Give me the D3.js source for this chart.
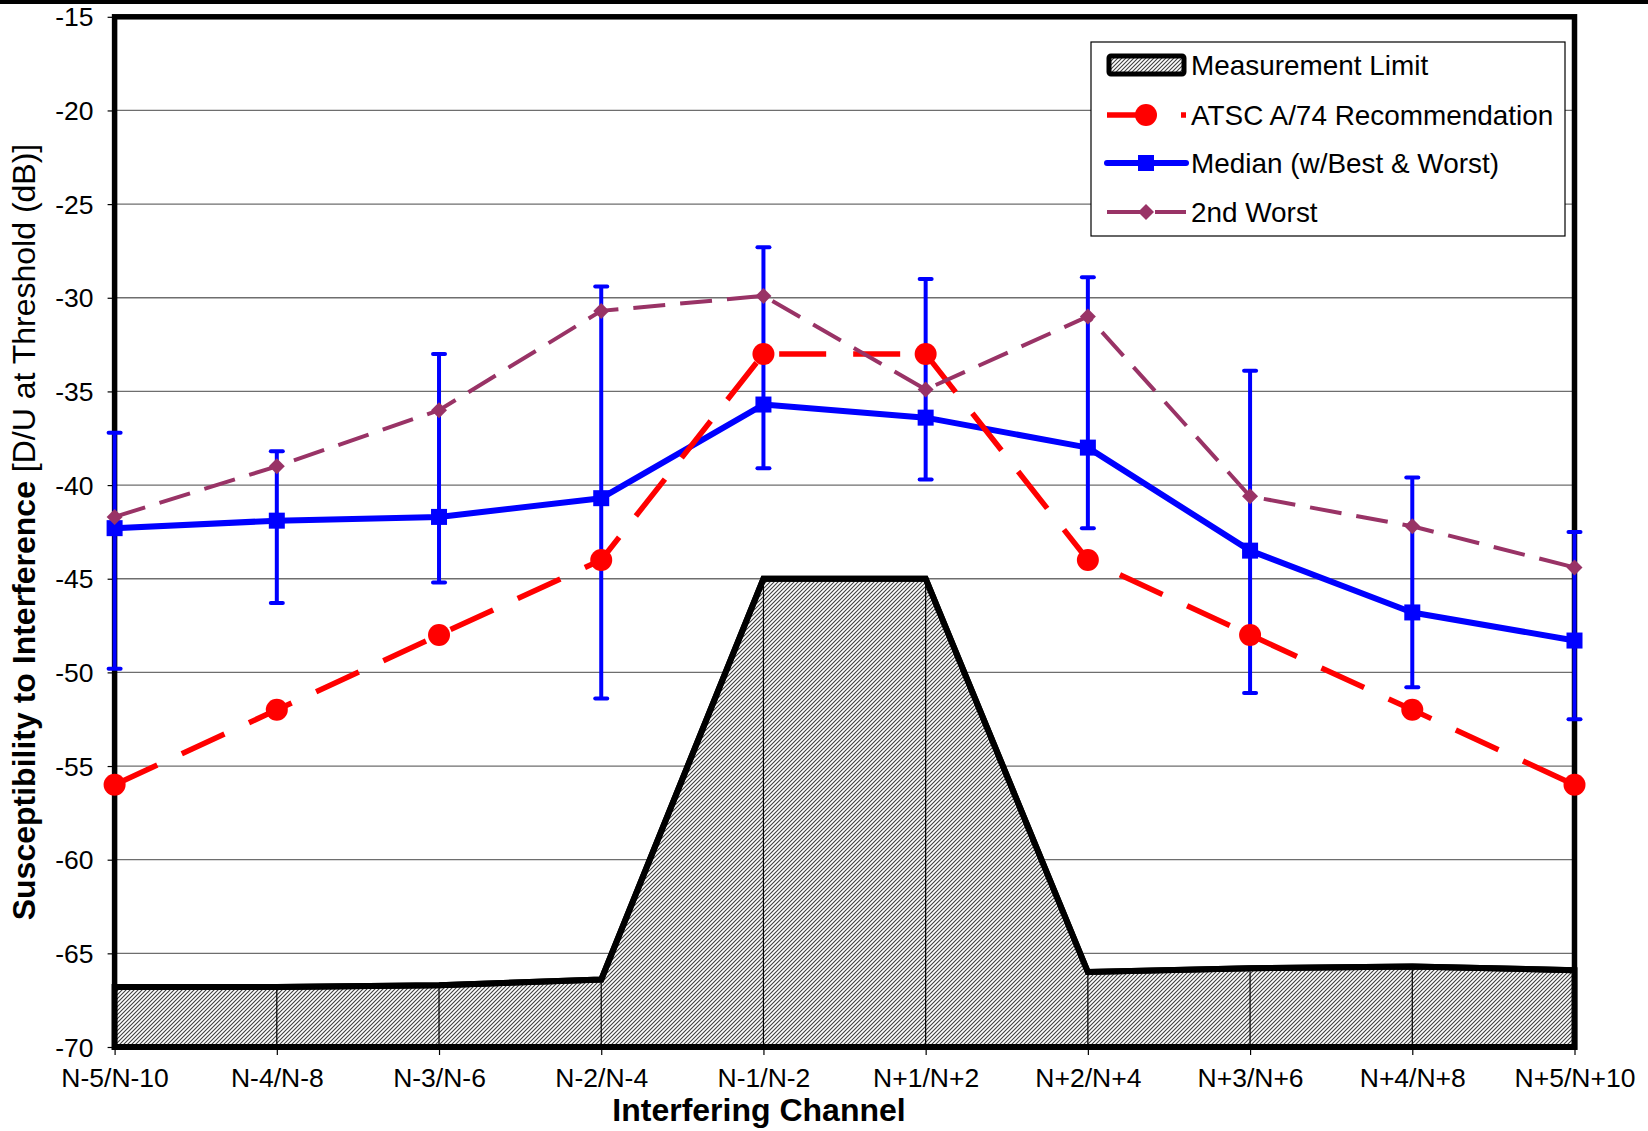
<!DOCTYPE html>
<html>
<head>
<meta charset="utf-8">
<script src="https://cdn.jsdelivr.net/npm/d3@7"></script>
<style>
  html, body { margin: 0; padding: 0; background: #fff; }
  svg { display: block; }
  text { font-family: "Liberation Sans", Arial, Helvetica, sans-serif; fill: #000; }
</style>
</head>
<body>
<svg id="chart" width="1648" height="1131"></svg>
<script>
// ---------- data ----------
const categories = ["N-5/N-10","N-4/N-8","N-3/N-6","N-2/N-4","N-1/N-2","N+1/N+2","N+2/N+4","N+3/N+6","N+4/N+8","N+5/N+10"];
const measurementLimit = [-66.8,-66.8,-66.7,-66.4,-45.0,-45.0,-66.0,-65.8,-65.7,-65.9];
const atscA74 = [-56,-52,-48,-44,-33,-33,-44,-48,-52,-56];
const median = [-42.3,-41.9,-41.7,-40.7,-35.7,-36.4,-38.0,-43.5,-46.8,-48.3];
const worst = [-37.2,-38.2,-33.0,-29.4,-27.3,-29.0,-28.9,-33.9,-39.6,-42.5];
const best = [-49.8,-46.3,-45.2,-51.4,-39.1,-39.7,-42.3,-51.1,-50.8,-52.5];
const secondWorst = [-41.7,-39.0,-36.0,-30.7,-29.9,-34.9,-31.0,-40.6,-42.2,-44.4];
const yTicks = [-15,-20,-25,-30,-35,-40,-45,-50,-55,-60,-65,-70];
const legendLabels = ["Measurement Limit","ATSC A/74 Recommendation","Median (w/Best & Worst)","2nd Worst"];

// ---------- layout ----------
const L = 114.6, R = 1574.5, T = 16.8, B = 1047;
const svg = d3.select("#chart");

const x = d3.scalePoint().domain(categories).range([L, R]).padding(0);
const y = d3.scaleLinear().domain([-70, -15]).range([B, T]);

// top black band
svg.append("rect").attr("x", 0).attr("y", 0).attr("width", 1648).attr("height", 4).attr("fill", "#000");

// hatch pattern
const defs = svg.append("defs");
const pat = defs.append("pattern").attr("id", "hatch").attr("patternUnits", "userSpaceOnUse")
  .attr("width", 4).attr("height", 4);
pat.append("rect").attr("width", 4).attr("height", 4).attr("fill", "#fff");
pat.append("path").attr("d", "M-1,1 L1,-1 M0,4 L4,0 M3,5 L5,3")
  .attr("stroke", "#404040").attr("stroke-width", 1.1);

// gridlines
svg.append("g").selectAll("line").data(yTicks.filter(v => v > -70 && v < -15)).join("line")
  .attr("x1", L).attr("x2", R).attr("y1", d => y(d)).attr("y2", d => y(d))
  .attr("stroke", "#6e6e6e").attr("stroke-width", 1.3);

// axes
const yAxis = svg.append("g").attr("transform", `translate(${L},0)`)
  .call(d3.axisLeft(y).tickValues(yTicks).tickSize(7).tickPadding(14).tickFormat(d => d));
yAxis.select(".domain").remove();
yAxis.selectAll("line").attr("stroke", "#000").attr("stroke-width", 1.2);
yAxis.selectAll("text").attr("font-size", 26.5).attr("dy", "0.34em")
  .style("font-family", '"Liberation Sans", Arial, sans-serif').attr("fill", "#000");

const xAxis = svg.append("g").attr("transform", `translate(0,${B})`)
  .call(d3.axisBottom(x).tickSize(8).tickPadding(13));
xAxis.select(".domain").remove();
xAxis.selectAll("line").attr("stroke", "#000").attr("stroke-width", 1.2);
xAxis.selectAll("text").attr("font-size", 26.5).attr("dy", "0.71em")
  .style("font-family", '"Liberation Sans", Arial, sans-serif').attr("fill", "#000");

// plot border
svg.append("rect").attr("x", L).attr("y", T).attr("width", R - L).attr("height", B - T)
  .attr("fill", "none").attr("stroke", "#000").attr("stroke-width", 5.5);

// measurement limit area
const area = d3.area().x((d, i) => x(categories[i])).y0(y(-70)).y1(d => y(d));
svg.append("path").datum(measurementLimit).attr("d", area)
  .attr("fill", "url(#hatch)").attr("stroke", "#000").attr("stroke-width", 6)
  .attr("stroke-linejoin", "miter");
// drop lines inside area
svg.append("g").selectAll("line").data(measurementLimit.slice(1, -1)).join("line")
  .attr("x1", (d, i) => x(categories[i + 1])).attr("x2", (d, i) => x(categories[i + 1]))
  .attr("y1", d => y(d) + 3).attr("y2", y(-70) - 3)
  .attr("stroke", "#000").attr("stroke-width", 1.2);
// redraw area top line on top
const topLine = d3.line().x((d, i) => x(categories[i])).y(d => y(d));
svg.append("path").datum(measurementLimit).attr("d", topLine)
  .attr("fill", "none").attr("stroke", "#000").attr("stroke-width", 6).attr("stroke-linejoin", "miter");

const BLUE = "#0000ff", RED = "#ff0000", PURPLE = "#993366";

// median line
svg.append("path").datum(median).attr("d", topLine)
  .attr("fill", "none").attr("stroke", BLUE).attr("stroke-width", 6).attr("stroke-linejoin", "round");
// error bars
const eb = svg.append("g");
categories.forEach((c, i) => {
  const cx = x(c);
  eb.append("line").attr("x1", cx).attr("x2", cx).attr("y1", y(worst[i])).attr("y2", y(best[i]))
    .attr("stroke", BLUE).attr("stroke-width", 4);
  [worst[i], best[i]].forEach(v => {
    eb.append("line").attr("x1", cx - 6).attr("x2", cx + 6).attr("y1", y(v)).attr("y2", y(v))
      .attr("stroke", BLUE).attr("stroke-width", 4).attr("stroke-linecap", "round");
  });
});
svg.append("g").selectAll("rect").data(median).join("rect")
  .attr("x", (d, i) => x(categories[i]) - 8).attr("y", d => y(d) - 8)
  .attr("width", 16).attr("height", 16).attr("fill", BLUE);

// ATSC line
svg.append("path").datum(atscA74).attr("d", topLine)
  .attr("fill", "none").attr("stroke", RED).attr("stroke-width", 5.5).attr("stroke-dasharray", "47,27");
svg.append("g").selectAll("circle").data(atscA74).join("circle")
  .attr("cx", (d, i) => x(categories[i])).attr("cy", d => y(d)).attr("r", 11).attr("fill", RED);

// 2nd worst
svg.append("path").datum(secondWorst).attr("d", topLine)
  .attr("fill", "none").attr("stroke", PURPLE).attr("stroke-width", 4).attr("stroke-dasharray", "32,15");
const diamond = (cx, cy, r) => `M${cx},${cy - r}L${cx + r},${cy}L${cx},${cy + r}L${cx - r},${cy}Z`;
svg.append("g").selectAll("path").data(secondWorst).join("path")
  .attr("d", (d, i) => diamond(x(categories[i]), y(d), 8)).attr("fill", PURPLE);

// axis titles
svg.append("text").attr("x", 759).attr("y", 1121).attr("text-anchor", "middle")
  .attr("font-size", 32).attr("font-weight", "bold").text("Interfering Channel");
const yt = svg.append("text").attr("transform", "translate(35,532) rotate(-90)")
  .attr("text-anchor", "middle").attr("font-size", 32);
yt.append("tspan").attr("font-weight", "bold").text("Susceptibility to Interference ");
yt.append("tspan").text("[D/U at Threshold (dB)]");

// legend
const lg = svg.append("g");
lg.append("rect").attr("x", 1091).attr("y", 42).attr("width", 474).attr("height", 194)
  .attr("fill", "#fff").attr("stroke", "#000").attr("stroke-width", 1.2);
const rowsY = [65, 115, 163, 212];
const sx0 = 1107, sx1 = 1186, smid = 1146;
lg.append("rect").attr("x", sx0 + 2).attr("y", rowsY[0] - 9).attr("width", sx1 - sx0 - 4).attr("height", 18)
  .attr("rx", 2).attr("fill", "url(#hatch)").attr("stroke", "#000").attr("stroke-width", 5);
lg.append("line").attr("x1", sx0).attr("x2", sx1).attr("y1", rowsY[1]).attr("y2", rowsY[1])
  .attr("stroke", RED).attr("stroke-width", 5.5).attr("stroke-dasharray", "47,27");
lg.append("circle").attr("cx", smid).attr("cy", rowsY[1]).attr("r", 11).attr("fill", RED);
lg.append("line").attr("x1", sx0).attr("x2", sx1).attr("y1", rowsY[2]).attr("y2", rowsY[2])
  .attr("stroke", BLUE).attr("stroke-width", 6).attr("stroke-linecap", "round");
lg.append("rect").attr("x", smid - 8).attr("y", rowsY[2] - 8).attr("width", 16).attr("height", 16).attr("fill", BLUE);
lg.append("line").attr("x1", sx0).attr("x2", sx1).attr("y1", rowsY[3]).attr("y2", rowsY[3])
  .attr("stroke", PURPLE).attr("stroke-width", 4).attr("stroke-dasharray", "38,10");
lg.append("path").attr("d", diamond(smid, rowsY[3], 8)).attr("fill", PURPLE);
lg.selectAll("text.lt").data(legendLabels).join("text").attr("class", "lt")
  .attr("x", 1191).attr("y", (d, i) => rowsY[i] + 10).attr("font-size", 27.9).text(d => d);
</script>
</body>
</html>
